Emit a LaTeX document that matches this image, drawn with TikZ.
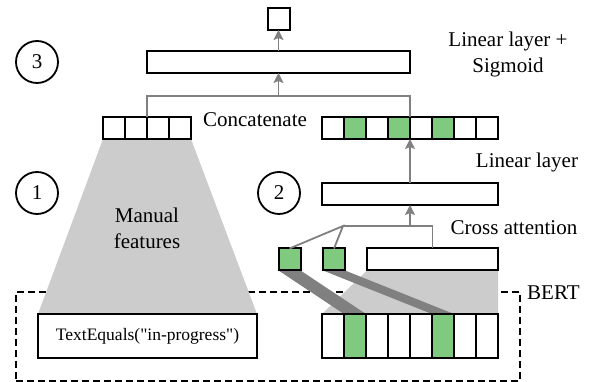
\documentclass[tikz,border=0pt]{standalone}
\usepackage{fontspec}
\setmainfont{Liberation Serif}
\newfontfamily\rulefam{Liberation Serif}[Ligatures=ResetAll]
\usetikzlibrary{positioning,arrows.meta,backgrounds}

\definecolor{hit}{RGB}{128,202,128}
\definecolor{darkband}{RGB}{128,128,128}
\definecolor{palegray}{RGB}{204,204,204}

\newcommand{\lblfont}{\fontsize{21}{26}\selectfont}
\newcommand{\rulefont}{\rulefam\fontsize{17.5}{21}\selectfont}

\tikzset{
  box/.style={draw, line width=2pt, fill=white, inner sep=0pt, outer sep=0pt, minimum height=22pt},
  cell/.style={box, minimum width=22pt},
  tall/.style={cell, minimum height=44pt},
  num/.style={draw, circle, line width=1.8pt, minimum size=42pt, inner sep=0pt, font=\lblfont},
  lbl/.style={font=\lblfont, align=center, inner sep=0pt},
  frame/.style={draw, line width=1.8pt, dash pattern=on 7pt off 4pt, inner sep=0pt},
  conn/.style={draw=darkband, line width=1.8pt},
  arr/.style={conn, -{Stealth[length=10pt, width=10pt, inset=2pt]}}
}

\begin{document}
\begin{tikzpicture}[x=1pt, y=1pt]

    \useasboundingbox (0,0) rectangle (589,382);

    % Define nodes
    \node[box, minimum width=263pt]           (sig) at (278.5,320) {};
    \node[cell, above=21pt of sig]            (out) {};
    \node[box, minimum width=131pt]           (ctx) at (432.5,122.5) {};
    \node[cell, fill=hit]                     (q1) at (289.5,122.5) {};
    \node[cell, fill=hit]                     (q2) at (334,122.5) {};
    \node[box, minimum width=219pt, minimum height=44pt, font=\rulefont]
                                              (rule) at (147.5,46) {TextEquals("in-progress")};

    % feature vectors
    \foreach \i in {1,...,4}
      \node[cell] (feat-\i) at ({92+22*\i},254) {};
    \foreach \i/\c in {1/white,2/hit,3/white,4/hit,5/white,6/hit,7/white,8/white}
      \node[cell, fill=\c] (emb-\i) at ({311+22*\i},254) {};
    \foreach \i/\c in {1/white,2/hit,3/white,4/white,5/white,6/hit,7/white,8/white}
      \node[tall, fill=\c] (tok-\i) at ({311+22*\i},46) {};

    \node[box, minimum width=176pt, below=44pt of emb-4.south east] (lin) {};

    % Step numbers
    \node[num] (n3) at (37,320) {3};
    \node[num] (n1) at (37,189) {1};
    \node[num] (n2) at (279,189) {2};

    % Labels
    \node[lbl]                 (l-sig)   at (508,328) {Linear layer +\\Sigmoid};
    \node[lbl, anchor=base]    (l-cat)   at (255,255) {Concatenate};
    \node[lbl, anchor=base]    (l-lin)   at (527,214) {Linear layer};
    \node[lbl, anchor=base]    (l-att)   at (514,147) {Cross attention};
    \node[lbl]                 (l-man)   at (147,154) {Manual\\features};

    % Connect the nodes
    \coordinate (cat) at (278.5,286);
    \draw[conn] (feat-2.north east) |- (cat) -| (emb-4.north east);
    \draw[arr] (cat) -- (sig);
    \draw[arr] (sig) -- (out);
    \draw[arr] (lin) -- (emb-4.south east);

    \coordinate (join) at (343,156);
    \draw[conn] (q1.north) -- (join) -- (q2.north);
    \draw[conn] (join) -| (ctx.north);
    \draw[arr] (lin.south |- join) -- (lin);

    % BERT frame and shading
    \begin{scope}[on background layer]
      \node[frame, minimum width=504pt, minimum height=89pt] (bert) at (268,45.5) {};
      \fill[palegray] (feat-1.south west) -- (feat-4.south east)
                      -- (rule.north east) -- (rule.north west) -- cycle;
      \fill[palegray] (ctx.south west) -- (ctx.south east)
                      -- (tok-8.north east) -- (tok-1.north west) -- cycle;
      \fill[darkband] (q1.south west) -- (q1.south east)
                      -- (tok-2.north east) -- (tok-2.north west) -- cycle;
      \fill[darkband] (q2.south west) -- (q2.south east)
                      -- (tok-6.north east) -- (tok-6.north west) -- cycle;
    \end{scope}
    \node[lbl, anchor=base west] (l-bert) at (527,82) {BERT};

\end{tikzpicture}
\end{document}
